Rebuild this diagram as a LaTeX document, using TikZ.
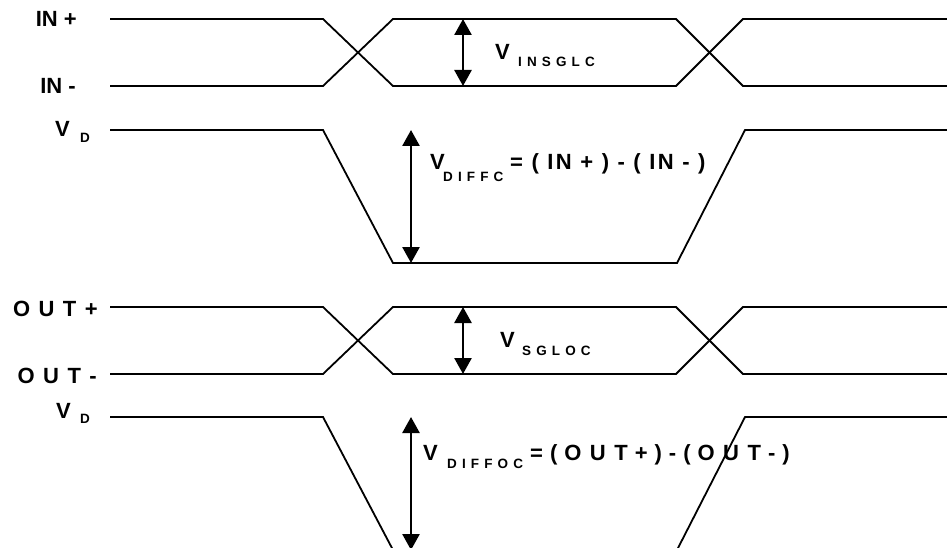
\documentclass[tikz,border=0pt]{standalone}
\usepackage{fontspec}
\setmainfont{Liberation Sans}
\newfontfamily\spacedsub[LetterSpace=38]{Liberation Sans}
\newfontfamily\spacedbig[LetterSpace=4]{Liberation Sans}
\newfontfamily\widerbig[LetterSpace=11]{Liberation Sans}
\usetikzlibrary{arrows.meta}
\newcommand{\lsp}{\hspace{8.5pt}}
\begin{document}
\begin{tikzpicture}[x=1pt,y=-1pt,
  sig/.style={line width=1.8pt, line join=miter},
  meas/.style={line width=2.6pt, {Triangle[width=17pt,length=16pt]}-{Triangle[width=17pt,length=16pt]}},
  lab/.style={font=\bfseries\fontsize{22}{26}\selectfont, inner sep=0pt},
  sublab/.style={font=\spacedsub\bfseries\fontsize{13.5}{15}\selectfont, inner sep=0pt, anchor=base west},
  big/.style={font=\spacedbig\bfseries\fontsize{22}{26}\selectfont, inner sep=0pt, anchor=base west},
  wbig/.style={font=\widerbig\bfseries\fontsize{22}{26}\selectfont, inner sep=0pt, anchor=base west}]
\useasboundingbox (0,0) rectangle (947,548);
\clip (0,0) rectangle (947,548);
% input pair
\draw[sig] (110,19) -- (323,19) -- (393,86) -- (676,86) -- (743,19) -- (947,19);
\draw[sig] (110,86) -- (323,86) -- (393,19) -- (676,19) -- (743,86) -- (947,86);
% input differential
\draw[sig] (110,130) -- (323,130) -- (393,263) -- (677,263) -- (745,130) -- (947,130);
% output pair
\draw[sig] (110,307) -- (323,307) -- (393,374) -- (676,374) -- (743,307) -- (947,307);
\draw[sig] (110,374) -- (323,374) -- (393,307) -- (676,307) -- (743,374) -- (947,374);
% output differential
\draw[sig] (110,417) -- (323,417) -- (393,550) -- (677,550) -- (745,417) -- (947,417);
% measurement arrows
\coordinate (a1t) at (463,19); \coordinate (a1b) at (463,86);
\coordinate (a2t) at (411,130); \coordinate (a2b) at (411,263);
\coordinate (a3t) at (463,307); \coordinate (a3b) at (463,374);
\coordinate (a4t) at (411,417); \coordinate (a4b) at (411,550);
\draw[meas] (a1t) -- (a1b);
\draw[meas] (a2t) -- (a2b);
\draw[meas] (a3t) -- (a3b);
\draw[meas] (a4t) -- (a4b);
% left labels
\node[lab, anchor=base east] (inp) at (77,27) {IN +};
\node[lab, anchor=base east] (inm) at (76,94) {IN -};
\node[lab, anchor=base west] (vd1) at (55,137) {V};
\node[sublab] (vd1s) at (80,143) {D};
\node[lab, anchor=base east] (outp) at (98,316) {O\lsp U\lsp T\lsp +};
\node[lab, anchor=base east] (outm) at (97,383) {O\lsp U\lsp T\lsp -};
\node[lab, anchor=base west] (vd2) at (56,418) {V};
\node[sublab] (vd2s) at (80,423) {D};
% measurement labels
\node[big] (v1) at (495,60) {V};
\node[sublab] (v1s) at (518,67) {INSGLC};
\node[big] (v2) at (430,170) {V};
\node[sublab] (v2s) at (443,182) {DIFFC};
\node[wbig] (v2e) at (510,170) {= ( IN + ) - ( IN - )};
\node[big] (v3) at (500,347) {V};
\node[sublab] (v3s) at (522,355) {SGLOC};
\node[big] (v4) at (423,460) {V};
\node[sublab] (v4s) at (447,468) {DIFFOC};
\node[big] (v4e) at (530,460) {= ( O\lsp U\lsp T + ) - ( O\lsp U\lsp T - )};
\end{tikzpicture}
\end{document}
